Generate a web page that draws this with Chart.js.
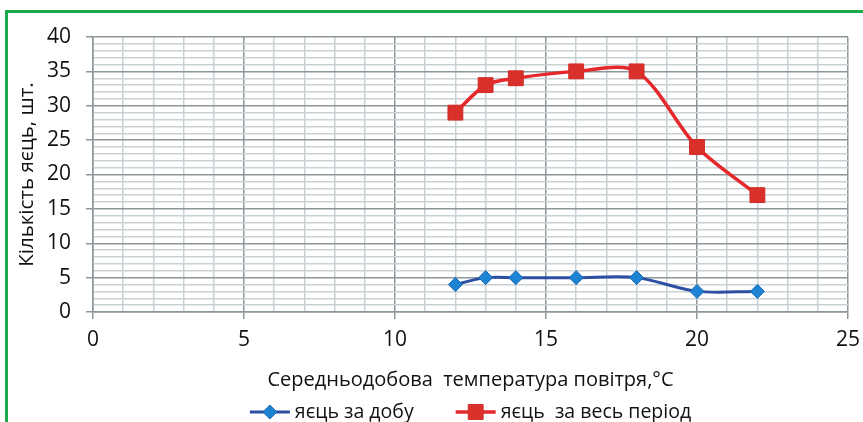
<!DOCTYPE html>
<html>
<head>
<meta charset="utf-8">
<script src="https://cdn.jsdelivr.net/npm/chart.js@4"></script>
<style>
  html, body { margin: 0; padding: 0; background: #fff; overflow: hidden; }
  #frame { position: absolute; left: 5px; top: 10px; width: 1000px; height: 1000px; border: 3px solid #1ea84c; }
  #wrap { position: absolute; left: 0; top: 0; width: 863px; height: 422px; }
</style>
</head>
<body>
<div id="frame"></div>
<div id="wrap"><canvas id="chart"></canvas></div>
<script>
const temps = [12, 13, 14, 16, 18, 20, 22];
const eggsPerDay = [4, 5, 5, 5, 5, 3, 3];
const eggsPerPeriod = [29, 33, 34, 35, 35, 24, 17];
const seriesNames = ['яєць за добу', 'яєць  за весь період'];
const xTitle = 'Середньодобова  температура повітря,°C';
const yTitle = 'Кількість яєць, шт.';

const FONT = '"Open Sans", sans-serif';
const minorGrid = '#c9d1d4';
const majorGrid = '#8d9699';

// legend drawn as line + marker like the original
const legendLines = {
    id: 'legendLines',
    afterDraw(chart) {
        const ctx = chart.ctx;
        const ds = chart.data.datasets;
        ctx.save();
        ctx.font = '19.5px ' + FONT;
        ctx.textBaseline = 'middle';
        const lineW = 40, gap = 5, itemGap = 42;
        const widths = ds.map(d => lineW + gap + ctx.measureText(d.label).width);
        const total = widths[0] + itemGap + widths[1];
        let x = (chart.chartArea.left + chart.chartArea.right) / 2 - total / 2;
        const y = 412;
        ds.forEach((d, i) => {
            ctx.strokeStyle = d.borderColor;
            ctx.lineWidth = d.borderWidth;
            ctx.beginPath();
            ctx.moveTo(x, y);
            ctx.lineTo(x + lineW, y);
            ctx.stroke();
            ctx.fillStyle = d.pointBackgroundColor;
            ctx.strokeStyle = d.pointBorderColor;
            ctx.lineWidth = d.pointBorderWidth;
            ctx.beginPath();
            const r = d.pointRadius;
            const cx = x + lineW / 2;
            if (d.pointStyle === 'rectRot') {
                ctx.moveTo(cx - r, y); ctx.lineTo(cx, y - r); ctx.lineTo(cx + r, y); ctx.lineTo(cx, y + r);
            } else {
                const s = r * Math.SQRT1_2;
                ctx.rect(cx - s, y - s, 2 * s, 2 * s);
            }
            ctx.closePath();
            ctx.fill();
            ctx.stroke();
            ctx.fillStyle = '#111';
            ctx.fillText(d.label, x + lineW + gap, y);
            x += widths[i] + itemGap;
        });
        ctx.restore();
    }
};

new Chart(document.getElementById('chart'), {
    type: 'line',
    data: {
        datasets: [
            {
                label: seriesNames[0],
                data: temps.map((t, i) => ({ x: t, y: eggsPerDay[i] })),
                borderColor: '#2c4fa3',
                borderWidth: 3,
                pointStyle: 'rectRot',
                pointRadius: 7,
                pointBackgroundColor: '#1d84d3',
                pointBorderColor: '#1668b4',
                pointBorderWidth: 1,
                tension: 0.3
            },
            {
                label: seriesNames[1],
                data: temps.map((t, i) => ({ x: t, y: eggsPerPeriod[i] })),
                borderColor: '#e5282c',
                borderWidth: 3.5,
                pointStyle: 'rect',
                pointRadius: 10.5,
                pointBackgroundColor: '#d9302b',
                pointBorderColor: '#d22a26',
                pointBorderWidth: 1,
                tension: 0.3
            }
        ]
    },
    options: {
        responsive: true,
        maintainAspectRatio: false,
        animation: false,
        layout: { padding: { left: 0, top: 37, right: 15, bottom: 0 } },
        plugins: {
            legend: { display: false },
            tooltip: { enabled: false }
        },
        scales: {
            x: {
                type: 'linear',
                min: 0,
                max: 25,
                afterFit: s => { s.height = 110; s.paddingRight = 0; s.paddingLeft = 0; },
                ticks: {
                    stepSize: 1,
                    autoSkip: false,
                    maxRotation: 0,
                    padding: 8,
                    color: '#111',
                    font: { family: FONT, size: 21 },
                    callback: v => (v % 5 === 0 ? v : '')
                },
                grid: {
                    color: c => (c.tick && c.tick.value % 5 === 0 ? majorGrid : minorGrid),
                    lineWidth: 1.5,
                    tickLength: 7,
                    tickColor: c => (c.tick && c.tick.value % 5 === 0 ? majorGrid : 'rgba(0,0,0,0)')
                },
                border: { color: majorGrid, width: 1.5 },
                title: {
                    display: true,
                    text: xTitle,
                    color: '#111',
                    font: { family: FONT, size: 20 },
                    padding: { top: 0, bottom: 30 }
                }
            },
            y: {
                min: 0,
                max: 40,
                afterFit: s => { s.width = 93; },
                ticks: {
                    stepSize: 1,
                    autoSkip: false,
                    padding: 15,
                    color: '#111',
                    font: { family: FONT, size: 21 },
                    callback: v => (v % 5 === 0 ? v : '')
                },
                grid: {
                    color: c => (c.tick && c.tick.value % 5 === 0 ? majorGrid : minorGrid),
                    lineWidth: 1.5,
                    tickLength: 7,
                    tickColor: c => (c.tick && c.tick.value % 5 === 0 ? majorGrid : 'rgba(0,0,0,0)')
                },
                border: { color: majorGrid, width: 1.5 },
                title: {
                    display: true,
                    text: yTitle,
                    color: '#111',
                    font: { family: FONT, size: 20.5 },
                    padding: { top: 15, bottom: 0 }
                }
            }
        }
    },
    plugins: [legendLines]
});
</script>
</body>
</html>
